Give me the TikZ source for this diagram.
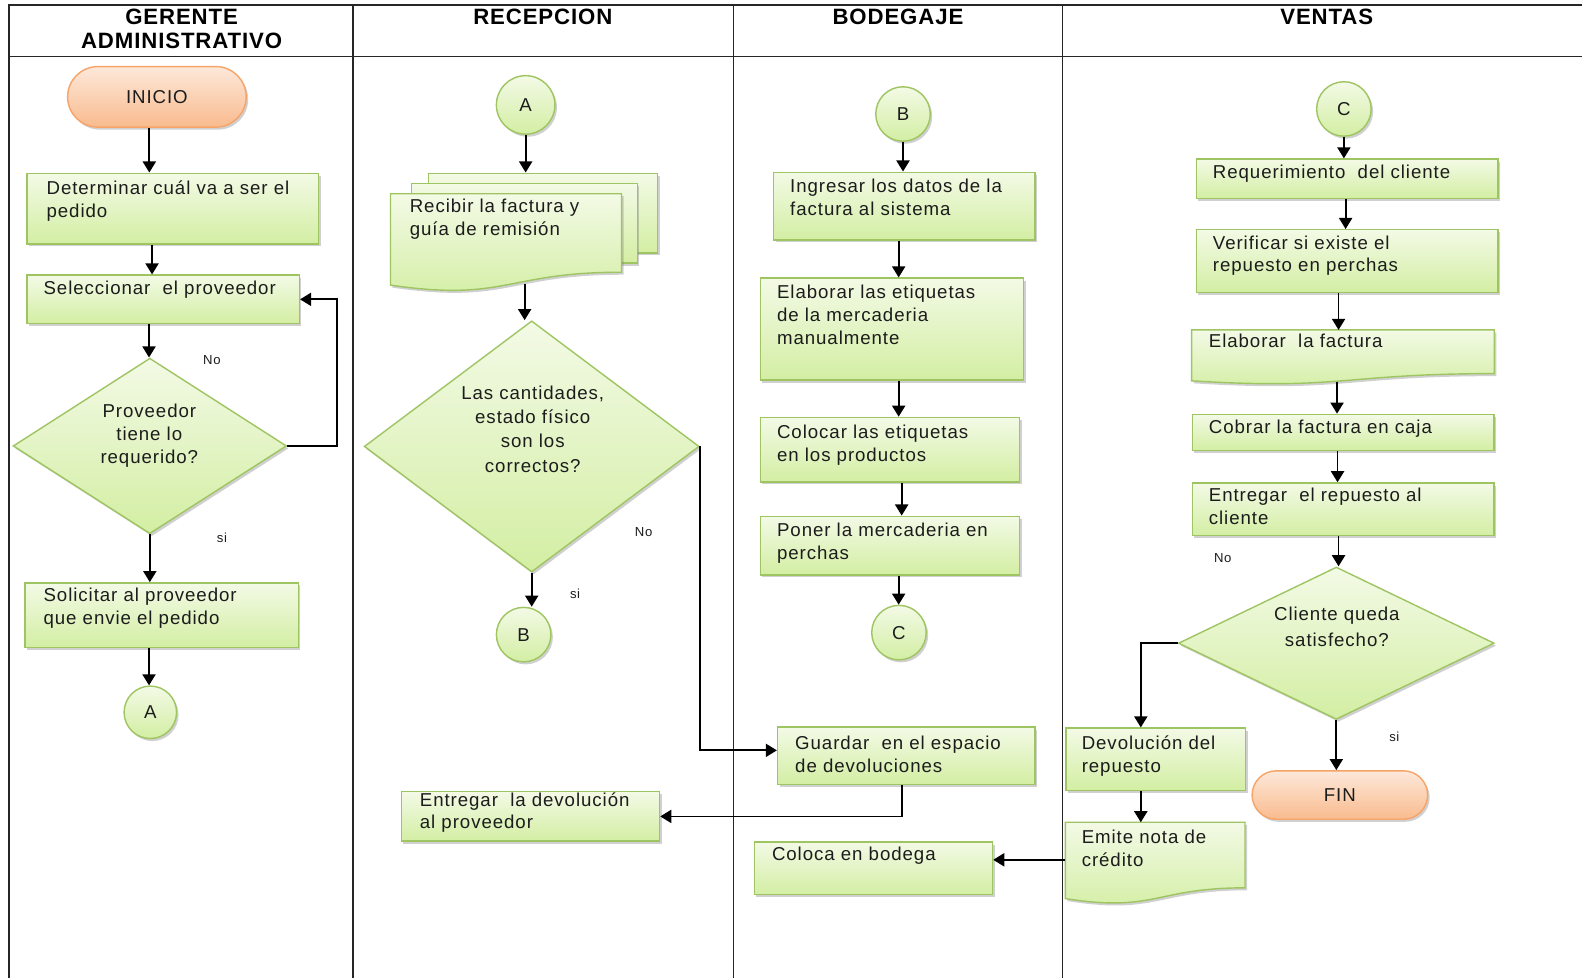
\documentclass[tikz,border=0pt]{standalone}
\usepackage{fontspec}
\setmainfont{Liberation Sans}
\newfontfamily\bodyfam[LetterSpace=5]{Liberation Sans}
\newfontfamily\headfam[LetterSpace=4]{Liberation Sans}
\usetikzlibrary{arrows.meta,shadows,calc,shapes.geometric}
\definecolor{grnB}{HTML}{9FC563}
\definecolor{grnT}{HTML}{F3FAE6}
\definecolor{grnBot}{HTML}{D3EEA3}
\definecolor{orB}{HTML}{F6A468}
\definecolor{orT}{HTML}{FDE8DA}
\definecolor{orBot}{HTML}{F9BB8E}
\definecolor{txtc}{HTML}{1C1C1C}
\newcommand\bodyfont{\bodyfam\fontsize{18.5}{22.5}\selectfont}
\newcommand\headfont{\headfam\fontsize{22}{24}\selectfont\bfseries}
\newcommand\lblfont{\bodyfam\fontsize{13}{15}\selectfont}
\tikzset{
  shd/.style={drop shadow={shadow xshift=2pt, shadow yshift=-2.5pt, opacity=0.3, fill=black!60}},
  gfill/.style={draw=grnB, line width=1.4pt, top color=grnT, bottom color=grnBot},
  box/.style={gfill, shd, inner sep=0pt, anchor=north west},
  anc/.style={inner sep=0pt, anchor=north west, draw=none},
  dia/.style={diamond, gfill, shd, inner sep=0pt, aspect=1},
  conn/.style={circle, gfill, shd, inner sep=0pt, font=\bodyfont, text=txtc},
  term/.style={draw=orB, line width=1.4pt, top color=orT, bottom color=orBot, shd, inner sep=0pt, font=\bodyfont, text=txtc},
  txt/.style={anchor=base west, inner sep=0pt, font=\bodyfont, text=txtc},
  ctxt/.style={anchor=base, inner sep=0pt, font=\bodyfont, text=txtc},
  lbl/.style={inner sep=0pt, font=\lblfont, text=txtc},
  hdr/.style={anchor=base, inner sep=0pt, font=\headfont, text=black},
  tbl/.style={line width=1.5pt, draw=black!85},
  arr/.style={-{Triangle[length=11pt,width=13pt]}, line width=1.8pt, draw=black},
  pics/docshape/.style 2 args={code={
    \path[gfill, shd] (0,0) -- (#1,0) -- (#1,{0.802*#2})
      .. controls ({#1/2},{0.802*#2}) and ({#1/2},{1.107*#2}) .. (0,{0.934*#2}) -- cycle;
  }}
}
\begin{document}
\begin{tikzpicture}[x=1pt,y=-1pt]
\useasboundingbox (0,0) rectangle (1568,969);
\fill[white] (0,0) rectangle (1568,969);
% table
\draw[tbl] (9,969) -- (9,5) -- (1568,5);
\draw[tbl] (9,56) -- (1568,56);
\draw[tbl] (350,5) -- (350,969);
\draw[tbl] (727,5) -- (727,969);
\draw[tbl] (1053,5) -- (1053,969);
\node[hdr] (h1a) at (180,24.5) {GERENTE};
\node[hdr] (h1b) at (180,48) {ADMINISTRATIVO};
\node[hdr] (h2) at (538,24.5) {RECEPCION};
\node[hdr] (h3) at (890,24.5) {BODEGAJE};
\node[hdr] (h4) at (1315,24.5) {VENTAS};

% ---------- column 1
\node[term, rounded corners=30pt, minimum width=177pt, minimum height=60pt] (inicio) at (155.5,96) {INICIO};
\node[box, minimum width=289pt, minimum height=70pt] (det) at (26,171) {};
\node[txt] (tdet) at (46,193) {\parbox[t]{280pt}{\raggedright Determinar cuál va a ser el\\pedido}};
\node[box, minimum width=270pt, minimum height=48pt] (sel) at (26,272) {};
\node[txt] (tsel) at (43,292) {Seleccionar\ \ el proveedor};
\node[dia, minimum width=271pt, minimum height=174pt] (d1) at (148.5,442) {};
\node[ctxt] (td1) at (148,414) {\parbox[t]{200pt}{\centering Proveedor\\tiene lo\\requerido?}};
\node[box, minimum width=271pt, minimum height=64pt] (sol) at (24,577) {};
\node[txt] (tsol) at (43,596) {\parbox[t]{260pt}{\raggedright Solicitar al proveedor\\que envie el pedido}};
\node[conn, minimum size=52pt] (ca1) at (149,706) {A};
\node[lbl] (no1) at (210,357) {No};
\node[lbl] (si1) at (220,533) {si};

% ---------- column 2
\node[conn, minimum size=58pt] (ca2) at (521,104) {A};
\node[box, minimum width=227pt, minimum height=79pt] (recb) at (424,171) {};
\node[box, minimum width=224pt, minimum height=79pt] (recm) at (407,181) {};
\pic at (387,192) {docshape={229}{97}};
\node[anc, minimum width=229pt, minimum height=97pt] (rec) at (387,192) {};
\node[txt] (trec) at (406,211) {\parbox[t]{220pt}{\raggedright Recibir la factura y\\guía de remisión}};
\node[dia, minimum width=332pt, minimum height=249pt] (d2) at (527,442.5) {};
\node[ctxt] (td2) at (528,396) {\parbox[t]{220pt}{\fontsize{18.5}{24}\selectfont\centering Las cantidades,\\estado físico\\son los\\correctos?}};
\node[conn, minimum size=54pt] (cb2) at (519,629) {B};
\node[lbl] (no2) at (638,527) {No};
\node[lbl] (si2) at (570,589) {si};
\node[box, minimum width=256pt, minimum height=49pt] (ent) at (397,784) {};
\node[txt] (tent) at (416,799) {\parbox[t]{240pt}{\raggedright Entregar\ \ la devolución\\al proveedor}};

% ---------- column 3
\node[conn, minimum size=54pt] (cb3) at (895,113) {B};
\node[box, minimum width=259pt, minimum height=67pt] (ing) at (766,170) {};
\node[txt] (ting) at (783,191) {\parbox[t]{240pt}{\raggedright Ingresar los datos de la\\factura al sistema}};
\node[box, minimum width=261pt, minimum height=101pt] (elab) at (753,275) {};
\node[txt] (telab) at (770,296) {\parbox[t]{240pt}{\raggedright Elaborar las etiquetas\\de la mercaderia\\manualmente}};
\node[box, minimum width=257pt, minimum height=64pt] (col) at (753,413) {};
\node[txt] (tcol) at (770,435) {\parbox[t]{240pt}{\raggedright Colocar las etiquetas\\en los productos}};
\node[box, minimum width=257pt, minimum height=58pt] (pon) at (753,511) {};
\node[txt] (tpon) at (770,532) {\parbox[t]{240pt}{\raggedright Poner la mercaderia en\\perchas}};
\node[conn, minimum size=54pt] (cc3) at (891,627) {C};
\node[box, minimum width=255pt, minimum height=57pt] (guar) at (770,720) {};
\node[txt] (tguar) at (788,743) {\parbox[t]{240pt}{\raggedright Guardar\ \ en el espacio\\de devoluciones}};
\node[box, minimum width=236pt, minimum height=52pt] (bod) at (747,834) {};
\node[txt] (tbod) at (765,853) {Coloca en bodega};

% ---------- column 4
\node[conn, minimum size=54pt] (cc4) at (1332,108) {C};
\node[box, minimum width=299pt, minimum height=39pt] (req) at (1185,157) {};
\node[txt] (treq) at (1202,177) {Requerimiento\ \ del cliente};
\node[box, minimum width=299pt, minimum height=62pt] (ver) at (1185,227) {};
\node[txt] (tver) at (1202,247) {\parbox[t]{260pt}{\raggedright Verificar si existe el\\repuesto en perchas}};
\pic at (1181,327) {docshape={300}{54}};
\node[anc, minimum width=300pt, minimum height=54pt] (fac) at (1181,327) {};
\node[txt] (tfac) at (1198,344) {Elaborar\ \ la factura};
\node[box, minimum width=299pt, minimum height=36pt] (cob) at (1181,410) {};
\node[txt] (tcob) at (1198,430) {Cobrar la factura en caja};
\node[box, minimum width=299pt, minimum height=52pt] (ent2) at (1181,478) {};
\node[txt] (tent2) at (1198,497) {\parbox[t]{260pt}{\raggedright Entregar\ \ el repuesto al\\cliente}};
\node[dia, minimum width=313pt, minimum height=151pt] (d3) at (1324.5,637.5) {};
\node[ctxt] (td3) at (1325,615) {\parbox[t]{220pt}{\fontsize{18.5}{26}\selectfont\centering Cliente queda\\satisfecho?}};
\node[lbl] (no3) at (1212,553) {No};
\node[lbl] (si3) at (1382,730) {si};
\node[term, rounded corners=24pt, minimum width=174pt, minimum height=48pt] (fin) at (1328,788) {FIN};
\node[box, minimum width=178pt, minimum height=62pt] (dev) at (1056,721) {};
\node[txt] (tdev) at (1072,743) {\parbox[t]{160pt}{\raggedright Devolución del\\repuesto}};
\pic at (1056,815) {docshape={178}{81}};
\node[anc, minimum width=178pt, minimum height=81pt] (emi) at (1056,815) {};
\node[txt] (temi) at (1072,836) {\parbox[t]{160pt}{\raggedright Emite nota de\\crédito}};

% ---------- connectors
\draw[arr] ([xshift=-7.5pt]inicio.south) -- ([xshift=-7.5pt]inicio.south |- det.north);
\draw[arr] ([xshift=-20.5pt]det.south) -- ([xshift=-20.5pt]det.south |- sel.north);
\draw[arr] ([xshift=-14pt]sel.south) -- ([xshift=-14pt]sel.south |- d1.north);
\draw[arr] (d1.south) -- (d1.south |- sol.north);
\draw[arr] ([xshift=-12.5pt]sol.south) -- ([xshift=-12.5pt]sol.south |- ca1.north);
\draw[arr] (d1.east) -- ++(49,0) |- (sel.east);

\draw[arr] (ca2.south) -- (ca2.south |- recb.north);
\draw[arr] ([xshift=-7pt,yshift=8pt]d2.north |- rec.south) -- ([xshift=-7pt]d2.north);
\draw[arr] (d2.south) -- (d2.south |- cb2.north);
\draw[arr] (d2.east) |- ([yshift=5.5pt]guar.west);

\draw[arr] (cb3.south) -- (cb3.south |- ing.north);
\draw[arr] ([xshift=-5.5pt]ing.south) -- ([xshift=-5.5pt]ing.south |- elab.north);
\draw[arr] ([xshift=6.5pt]elab.south) -- ([xshift=6.5pt]elab.south |- col.north);
\draw[arr] ([xshift=11.5pt]col.south) -- ([xshift=11.5pt]col.south |- pon.north);
\draw[arr] ([xshift=8.5pt]pon.south) -- ([xshift=8.5pt]pon.south |- cc3.north);
\draw[arr] ([xshift=-4.5pt]guar.south) |- (ent.east);
\draw[arr] ([yshift=3.5pt]emi.west) -- ([yshift=3.5pt]emi.west -| bod.east);

\draw[arr] (cc4.south) -- (cc4.south |- req.north);
\draw[arr] ([xshift=-1.5pt]req.south) -- ([xshift=-1.5pt]req.south |- ver.north);
\draw[arr] ([xshift=-8.5pt]ver.south) -- ([xshift=-8.5pt]ver.south |- fac.north);
\draw[arr] ([xshift=-6pt,yshift=3pt]fac.south) -- ([xshift=-6pt]fac.south |- cob.north);
\draw[arr] ([xshift=-5.5pt]cob.south) -- ([xshift=-5.5pt]cob.south |- ent2.north);
\draw[arr] ([xshift=-4.5pt]ent2.south) -- ([xshift=-4.5pt]ent2.south |- d3.north);
\draw[arr] (d3.west) -| ([xshift=-15pt]dev.north);
\draw[arr] (d3.south) -- (d3.south |- fin.north);
\draw[arr] ([xshift=-15pt]dev.south) -- ([xshift=-15pt]dev.south |- emi.north);
\end{tikzpicture}
\end{document}
